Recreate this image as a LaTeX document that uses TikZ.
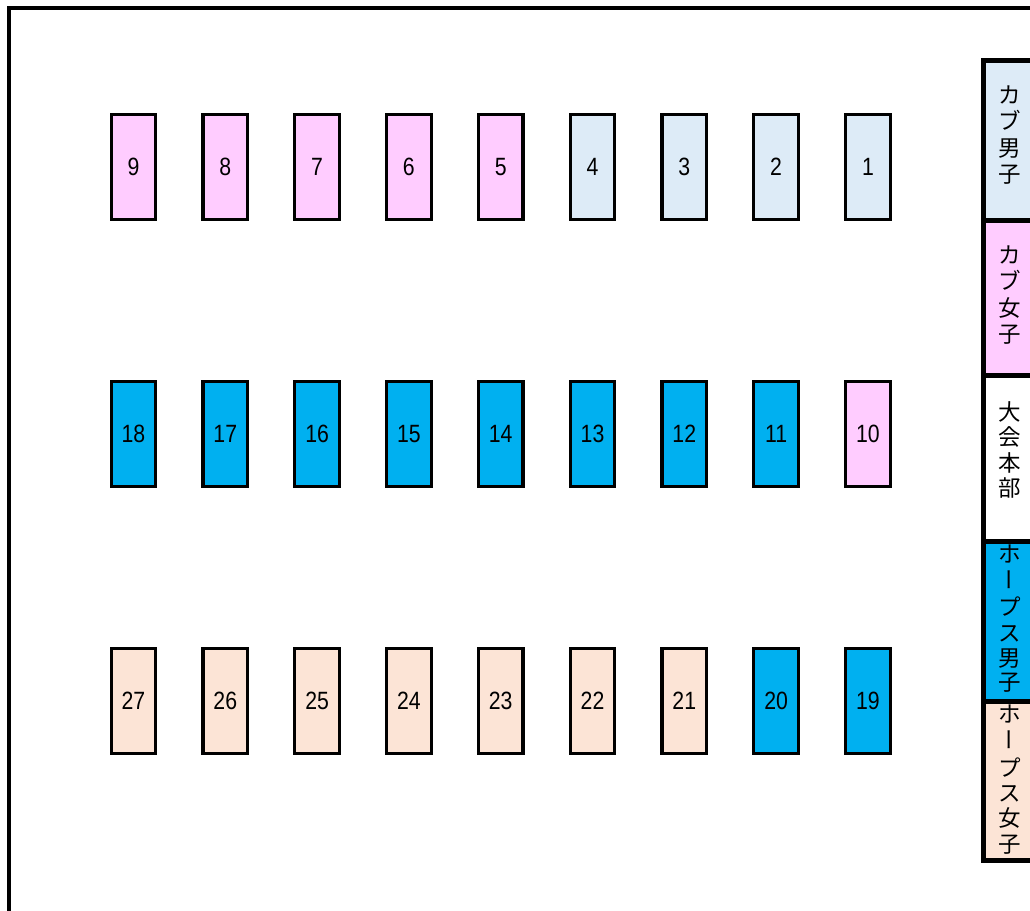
\documentclass[tikz,border=0pt]{standalone}
\usepackage{fontspec}
\newfontfamily\numfont[FakeStretch=0.85]{Liberation Sans}
\newfontfamily\jpfont{Noto Sans CJK JP}
\definecolor{cubboy}{RGB}{221,235,247}
\definecolor{cubgirl}{RGB}{255,204,255}
\definecolor{hopesboy}{RGB}{0,176,240}
\definecolor{hopesgirl}{RGB}{252,228,214}
\begin{document}
\begin{tikzpicture}[x=1pt,y=-1pt,line join=miter,
  seat/.style={draw=black,line width=3.2pt,minimum width=44.5pt,minimum height=105pt,inner sep=0pt,
    font=\numfont\fontsize{25}{25}\selectfont},
  frame/.style={draw=black,line width=4pt},
  legbox/.style={draw=black,line width=5pt},
  legch/.style={font=\jpfont\fontsize{22.5}{22.5}\selectfont,inner sep=0pt,text height=19.6pt,text depth=2.6pt},
  vbar/.style={legch,text height=18pt,text depth=0pt,rotate=-90}]
\useasboundingbox (0,0) rectangle (1030,910);
\clip (0,0) rectangle (1030,910);
% outer frame
\draw[frame] (8.7,920) |- (1040,8);
% row 1
\foreach \n/\cl [count=\i from 0] in {9/cubgirl,8/cubgirl,7/cubgirl,6/cubgirl,5/cubgirl,4/cubboy,3/cubboy,2/cubboy,1/cubboy}
  \node[seat,fill=\cl] (s\n) at ({133.5+\i*91.8},167) {\n};
% row 2
\foreach \n/\cl [count=\i from 0] in {18/hopesboy,17/hopesboy,16/hopesboy,15/hopesboy,14/hopesboy,13/hopesboy,12/hopesboy,11/hopesboy,10/cubgirl}
  \node[seat,fill=\cl] (s\n) at ({133.5+\i*91.8},434) {\n};
% row 3
\foreach \n/\cl [count=\i from 0] in {27/hopesgirl,26/hopesgirl,25/hopesgirl,24/hopesgirl,23/hopesgirl,22/hopesgirl,21/hopesgirl,20/hopesboy,19/hopesboy}
  \node[seat,fill=\cl] (s\n) at ({133.5+\i*91.8},701) {\n};
% legend
\draw[legbox,fill=cubboy] (983.5,60.5) rectangle (1040,220.5);
\draw[legbox,fill=cubgirl] (983.5,220.5) rectangle (1040,375.5);
\draw[legbox,fill=white] (983.5,375.5) rectangle (1040,541);
\draw[legbox,fill=hopesboy] (983.5,541) rectangle (1040,701);
\draw[legbox,fill=hopesgirl] (983.5,701) rectangle (1040,860.5);
\foreach \c [count=\i from 0] in {カ,ブ,男,子}
  \node[legch] (la\i) at (1009.5,{95+\i*26.3}) {\c};
\foreach \c [count=\i from 0] in {カ,ブ,女,子}
  \node[legch] (lb\i) at (1009.5,{255+\i*26.3}) {\c};
\foreach \c [count=\i from 0] in {大,会,本,部}
  \node[legch] (lc\i) at (1009.5,{412+\i*25.4}) {\c};
% hopes boys
\node[legch] (ld0) at (1009.5,554) {ホ};
\node[vbar] (ld1) at (1009.5,580) {ー};
\node[legch] (ld2) at (1009.5,607) {プ};
\node[legch] (ld3) at (1009.5,632.5) {ス};
\node[legch] (ld4) at (1009.5,657.5) {男};
\node[legch] (ld5) at (1009.5,682) {子};
% hopes girls
\node[legch] (le0) at (1009.5,714) {ホ};
\node[vbar] (le1) at (1009.5,740) {ー};
\node[legch] (le2) at (1009.5,767.5) {プ};
\node[legch] (le3) at (1009.5,792.5) {ス};
\node[legch] (le4) at (1009.5,817.5) {女};
\node[legch] (le5) at (1009.5,844) {子};
\end{tikzpicture}
\end{document}
